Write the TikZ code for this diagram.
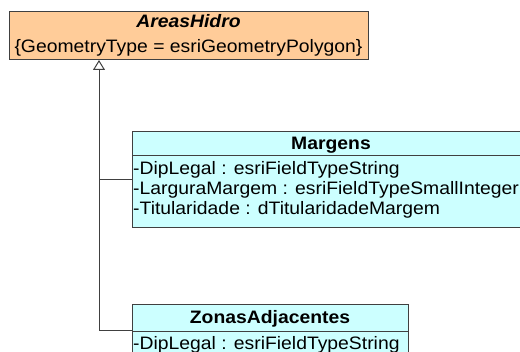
\documentclass[tikz,border=0pt]{standalone}
\usepackage{fontspec}
\setmainfont[FakeStretch=1.075]{Liberation Sans}
\usetikzlibrary{arrows.meta}
\definecolor{abstractfill}{HTML}{FFCC99}
\definecolor{classfill}{HTML}{CCFFFF}
\definecolor{edgegray}{HTML}{404040}
\begin{document}
\begin{tikzpicture}[x=1pt,y=-1pt,
  classbox/.style={draw=edgegray,line width=1pt,anchor=north west,inner sep=0pt,outer sep=0pt},
  txt/.style={inner sep=0pt,font=\fontsize{18}{20}\selectfont},
  title/.style={txt,anchor=base,font=\fontsize{18}{20}\selectfont\bfseries},
  attr/.style={txt,anchor=base west},
  genline/.style={draw=edgegray,line width=1pt},
  genarrow/.style={genline,-{Triangle[open,length=10pt,width=12pt,line width=1pt]}}
]
\useasboundingbox (0,0) rectangle (520,352);
\clip (0,0) rectangle (520,352);

% abstract parent class
\node[classbox,fill=abstractfill,minimum width=359pt,minimum height=48pt] (areas) at (9,12) {};
\node[title,font=\fontsize{18}{20}\selectfont\bfseries\itshape] (areasname) at (188.5,28) {AreasHidro};
\node[txt,anchor=base] (areasgeom) at (188.5,53) {\{GeometryType = esriGeometryPolygon\}};

% Margens
\node[classbox,fill=classfill,minimum width=398pt,minimum height=96pt] (marg) at (132,132) {};
\draw[edgegray,line width=1pt] (132,156) -- (530,156);
\node[title] (margname) at (331,150) {Margens};
\node[attr] (m1) at (133,174.5) {-DipLegal : esriFieldTypeString};
\node[attr] (m2) at (133,194.5) {-LarguraMargem : esriFieldTypeSmallInteger};
\node[attr] (m3) at (133,214.5) {-Titularidade : dTitularidadeMargem};

% ZonasAdjacentes
\node[classbox,fill=classfill,minimum width=276pt,minimum height=52pt] (zon) at (132,305) {};
\draw[edgegray,line width=1pt] (132,331.5) -- (408,331.5);
\node[title] (zonname) at (270,324) {ZonasAdjacentes};
\node[attr] (z1) at (133,350) {-DipLegal : esriFieldTypeString};

% generalisation tree
\coordinate (apex) at ([xshift=90pt]areas.south west);
\draw[genarrow] (zon.west) -| (apex);
\draw[genline] (marg.west) -- (marg.west -| apex);
\end{tikzpicture}
\end{document}
